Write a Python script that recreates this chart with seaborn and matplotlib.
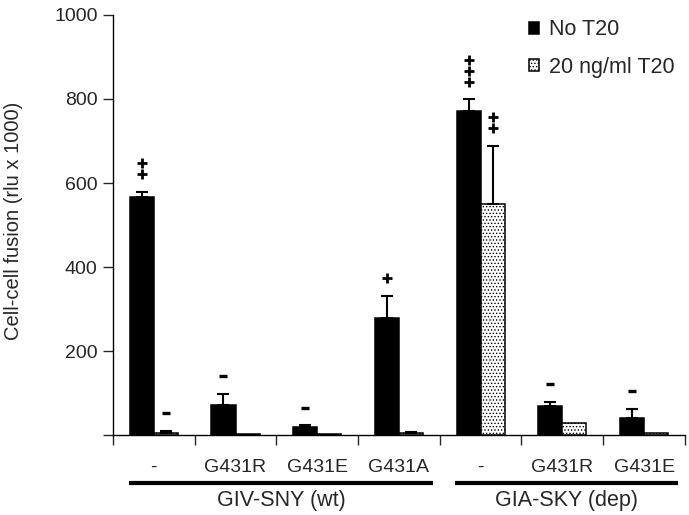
import numpy as np
import pandas as pd
import matplotlib
matplotlib.use("Agg")
import matplotlib.pyplot as plt
import matplotlib.transforms as mtransforms
import seaborn as sns

# values (rlu x 1000)
categories = ["wt -", "wt G431R", "wt G431E", "wt G431A", "dep -", "dep G431R", "dep G431E"]
tick_labels = ["-", "G431R", "G431E", "G431A", "-", "G431R", "G431E"]
conditions = ["No T20", "20 ng/ml T20"]
no_t20 = [567, 71, 20, 278, 771, 69, 40]
no_t20_err = [12, 27, 4, 54, 28, 10, 23]
t20 = [6, 3, 2, 5, 549, 28, 5]
t20_err = [4, 0, 0, 3, 140, 0, 0]
# significance marks drawn above each bar: "+" stacked n times, or "-"
marks_no_t20 = ["++", "-", "-", "+", "+++", "-", "-"]
marks_t20 = ["-", "", "", "", "++", "", ""]
group_names = ["GIV-SNY (wt)", "GIA-SKY (dep)"]
group_first = [0, 4]
group_last = [3, 6]

sns.set_style("ticks")
plt.rcParams["font.family"] = ["Liberation Sans", "DejaVu Sans"]
plt.rcParams["hatch.linewidth"] = 0.6
plt.rcParams["hatch.color"] = "black"

df = pd.DataFrame({
    "cat": categories * 2,
    "cond": [conditions[0]] * 7 + [conditions[1]] * 7,
    "val": no_t20 + t20,
})

fig = plt.figure(figsize=(6.89, 5.15), dpi=100)
ax = fig.add_axes([0.164, 0.1553, 0.830, 0.8156])

sns.barplot(data=df, x="cat", y="val", hue="cond", order=categories,
            hue_order=conditions, palette=["black", "white"], width=0.59,
            edgecolor="black", linewidth=1.1, errorbar=None, legend=False,
            saturation=1, ax=ax)

bar_sets = list(ax.containers)
for bar in bar_sets[1]:
    bar.set_hatch(".....")

errs = [no_t20_err, t20_err]
vals = [no_t20, t20]
marks = [marks_no_t20, marks_t20]
for k, cont in enumerate(bar_sets):
    for i, bar in enumerate(cont):
        xc = bar.get_x() + bar.get_width() / 2
        top = vals[k][i]
        e = errs[k][i]
        if e > 0:
            ax.errorbar([xc], [top], yerr=[[0], [e]], fmt="none", ecolor="black",
                        elinewidth=1.5, capsize=4.5, capthick=1.5)
        m = marks[k][i]
        for j, ch in enumerate(m):
            tr = mtransforms.offset_copy(ax.transData, fig=fig, x=0,
                                         y=12.5 + 7.9 * j, units="points")
            if ch == "+":
                ax.plot([xc], [top + e], marker="+", ms=7.5, mew=2.0,
                        color="black", transform=tr, clip_on=False)
            else:
                ax.plot([xc], [top + e], marker="_", ms=5.5, mew=2.4,
                        color="black", transform=tr, clip_on=False)

ax.set_xlim(-0.5, 6.5)
ax.set_ylim(0, 1000)
ax.set_yticks([0, 200, 400, 600, 800, 1000])
ax.set_yticklabels(["", "200", "400", "600", "800", "1000"])
ax.set_xticks(range(7))
ax.set_xticklabels(tick_labels)
ax.set_xticks(np.arange(-0.5, 7, 1), minor=True)
ax.tick_params(axis="x", which="major", length=0, pad=17, labelsize=14)
ax.tick_params(axis="x", which="minor", length=7, width=1, direction="out")
ax.tick_params(axis="y", length=7, width=1, pad=4, labelsize=14)
ax.set_xlabel("")
ax.set_ylabel("Cell-cell fusion (rlu x 1000)", fontsize=14.5)
ax.yaxis.set_label_coords(-0.157, 0.51)
sns.despine(ax=ax)
for s in ["left", "bottom"]:
    ax.spines[s].set_linewidth(1)
    ax.spines[s].set_color("black")

trans = mtransforms.blended_transform_factory(ax.transData, ax.transAxes)
for name, a, b in zip(group_names, group_first, group_last):
    x0, x1 = a - 0.31, b + 0.42
    ax.plot([x0, x1], [-0.114, -0.114], color="black", lw=3, transform=trans,
            clip_on=False, solid_capstyle="butt")
    ax.text((x0 + x1) / 2, -0.155, name, transform=trans, ha="center",
            va="center", fontsize=15.5)

handles = [bar_sets[0][0], bar_sets[1][0]]
ax.legend(handles, conditions, loc="upper left", bbox_to_anchor=(0.712, 1.01),
          frameon=False, fontsize=15.5, handlelength=0.47, handleheight=0.47,
          handletextpad=0.45, labelspacing=0.75, borderaxespad=0)

fig.savefig("out.png", dpi=100)
